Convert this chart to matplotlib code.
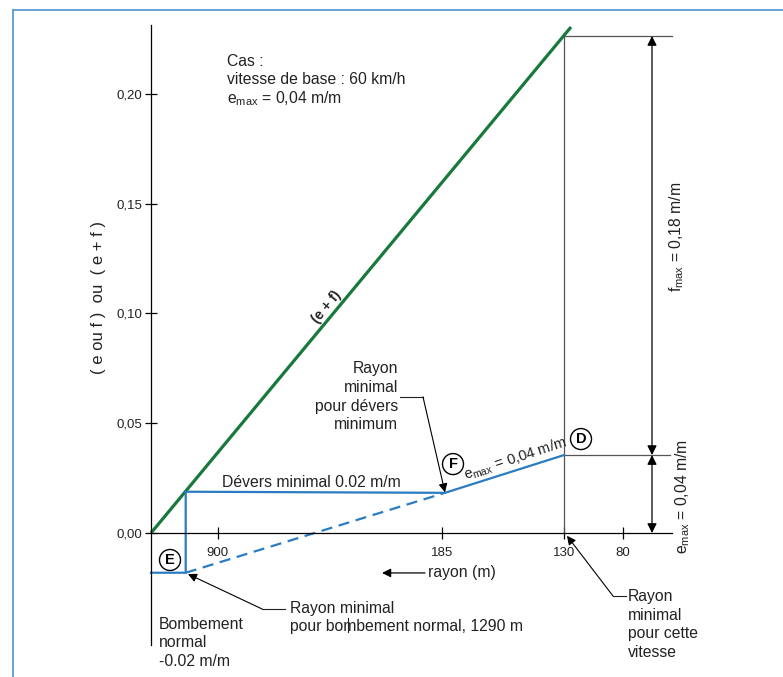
import matplotlib
matplotlib.use("Agg")
import matplotlib.pyplot as plt
from matplotlib.lines import Line2D

plt.rcParams['font.family'] = ['Liberation Sans', 'DejaVu Sans']
plt.rcParams['mathtext.fontset'] = 'custom'
plt.rcParams['mathtext.rm'] = 'Liberation Sans'
plt.rcParams['mathtext.it'] = 'Liberation Sans:italic'

# schematic x axis (radius decreasing to the right), y in m/m
y_ticks = [0.00, 0.05, 0.10, 0.15, 0.20]
y_ticklabels = ['0,00', '0,05', '0,10', '0,15', '0,20']
x_ticks = [66.7, 290.7, 413, 472]
x_ticklabels = ['900', '185', '130', '80']

# (e + f) line
ef_x = [0, 420]
ef_y = [0, 0.2305]

# superelevation path E -> F -> D
dev_x = [0, 34.7, 34.7, 294, 413]
dev_y = [-0.0181, -0.0181, 0.0188, 0.0183, 0.0355]

# extrapolated crown line (dashed)
dash_x = [34.7, 294]
dash_y = [-0.0181, 0.0183]

x_D = 413
y_top = 0.2264
y_D = 0.0355
x_dim = 501
x_ext_end = 521

GREEN = '#17793b'
BLUE = '#2a7cc2'
GREY = '#555555'
TXT = '#222222'
FS = 11.3

fig = plt.figure(figsize=(7.83, 6.77), dpi=100)
ax = fig.add_axes([0, 0, 1, 1])
ax.set_xlim(-151, 632)
ax.set_ylim(-0.0656, 0.2428)
ax.patch.set_alpha(0)

for s in ['top', 'right']:
    ax.spines[s].set_visible(False)
ax.spines['left'].set_position(('data', 0))
ax.spines['bottom'].set_position(('data', 0))
ax.spines['left'].set_bounds(-0.051, 0.2314)
ax.spines['bottom'].set_bounds(0, x_ext_end)
ax.spines['left'].set_linewidth(0.9)
ax.spines['bottom'].set_linewidth(0.9)

ax.set_yticks(y_ticks)
ax.set_yticklabels(y_ticklabels, fontsize=9.5, color=TXT)
ax.set_xticks(x_ticks)
ax.set_xticklabels(x_ticklabels, fontsize=9.5, color=TXT)
ax.tick_params(axis='both', direction='inout', length=8, width=0.9, pad=2)
ax.tick_params(axis='x', pad=6)

# grey construction lines
ax.plot([x_D, x_D], [0, y_top], color=GREY, lw=0.9)
ax.plot([x_D, x_ext_end], [y_top, y_top], color=GREY, lw=0.9)
ax.plot([x_D, x_ext_end - 2], [y_D, y_D], color=GREY, lw=0.9)

# data lines
ax.plot(ef_x, ef_y, color=GREEN, lw=2.3, solid_capstyle='butt')
ax.plot(dev_x, dev_y, color=BLUE, lw=1.6)
ax.plot(dash_x, dash_y, color=BLUE, lw=1.6, linestyle=(0, (5, 3)))

# dimension arrows
arr = dict(arrowstyle='<|-|>', color='black', lw=0.9, mutation_scale=14,
           shrinkA=0, shrinkB=0)
ax.annotate('', xy=(x_dim, y_top), xytext=(x_dim, y_D), arrowprops=arr)
ax.annotate('', xy=(x_dim, y_D), xytext=(x_dim, 0), arrowprops=arr)

ax.text(526, 0.1349, r'f$_{\mathregular{max}}$ = 0,18 m/m', rotation=90,
        ha='center', va='center', fontsize=FS, color=TXT)
ax.text(532, 0.0164, r'e$_{\mathregular{max}}$ = 0,04 m/m', rotation=90,
        ha='center', va='center', fontsize=FS, color=TXT)

# y label
ax.text(-53, 0.1073, '( e ou f )  ou  ( e + f )', rotation=90,
        ha='center', va='center', fontsize=12, color=TXT)

# header text
ax.text(76, 0.2147, 'Cas :', fontsize=FS, va='center', color=TXT)
ax.text(76, 0.2064, 'vitesse de base : 60 km/h', fontsize=FS, va='center',
        color=TXT)
ax.text(76, 0.1978, r'e$_{\mathregular{max}}$ = 0,04 m/m', fontsize=FS,
        va='center', color=TXT)

# (e + f) label along green line
ax.text(176, 0.1030, '(e + f)', rotation=50.4, rotation_mode='anchor',
        ha='center', va='center', fontsize=10, fontweight='bold', color=TXT)

ax.text(71, 0.0232, 'Dévers minimal 0.02 m/m', fontsize=FS, va='center',
        color=TXT)

ax.text(247, 0.0620, 'Rayon\nminimal\npour dévers\nminimum', ha='right',
        va='center', fontsize=FS, linespacing=1.3, color=TXT)
ax.plot([249, 272], [0.0620, 0.0620], color=TXT, lw=0.8)
ax.annotate('', xy=(294, 0.0185), xytext=(272, 0.0620),
            arrowprops=dict(arrowstyle='-|>', color='black', lw=0.8,
                            mutation_scale=13, shrinkA=0, shrinkB=0))

ax.text(364, 0.0336, r'e$_{\mathregular{max}}$ = 0,04 m/m', rotation=18.2,
        rotation_mode='anchor', ha='center', va='center', fontsize=10.6,
        color=TXT)

# circled points
circ = dict(boxstyle='circle,pad=0.24', facecolor='white', edgecolor='black',
            lw=1.0)
ax.text(302, 0.0314, 'F', ha='center', va='center', fontsize=10.5,
        fontweight='bold', bbox=circ)
ax.text(430, 0.0428, 'D', ha='center', va='center', fontsize=10.5,
        fontweight='bold', bbox=circ)
ax.text(19, -0.0123, 'E', ha='center', va='center', fontsize=10.5,
        fontweight='bold', bbox=circ)

# rayon direction
ax.annotate('', xy=(231, -0.0182), xytext=(274, -0.0182),
            arrowprops=dict(arrowstyle='-|>', color='black', lw=0.9,
                            mutation_scale=13, shrinkA=0, shrinkB=0))
ax.text(277, -0.0182, 'rayon (m)', fontsize=FS, va='center', color=TXT)

ax.text(139, -0.0385, 'Rayon minimal\npour bombement normal, 1290 m',
        fontsize=FS, va='center', linespacing=1.25, color=TXT)
ax.plot([111, 134], [-0.0346, -0.0346], color=TXT, lw=0.8)
ax.annotate('', xy=(37, -0.0187), xytext=(111, -0.0346),
            arrowprops=dict(arrowstyle='-|>', color='black', lw=0.8,
                            mutation_scale=13, shrinkA=0, shrinkB=0))
ax.plot([197, 197], [-0.0387, -0.0451], color=TXT, lw=0.8)

ax.text(8, -0.0501, 'Bombement\nnormal\n-0.02 m/m', fontsize=FS, va='center',
        linespacing=1.3, color=TXT)

ax.text(477, -0.0417, 'Rayon\nminimal\npour cette\nvitesse', fontsize=FS,
        va='center', linespacing=1.3, color=TXT)
ax.plot([462, 475], [-0.0287, -0.0287], color=TXT, lw=0.8)
ax.annotate('', xy=(416, -0.0013), xytext=(462, -0.0287),
            arrowprops=dict(arrowstyle='-|>', color='black', lw=0.8,
                            mutation_scale=13, shrinkA=0, shrinkB=0))

# page frame (top and left edges)
fx = 13 / 783
fy = 1 - 10 / 677
fig.add_artist(Line2D([fx, fx], [0, fy], color='#5b9bd5', lw=1.3))
fig.add_artist(Line2D([fx, 1], [fy, fy], color='#5b9bd5', lw=1.3))

fig.savefig('out.png', dpi=100)
